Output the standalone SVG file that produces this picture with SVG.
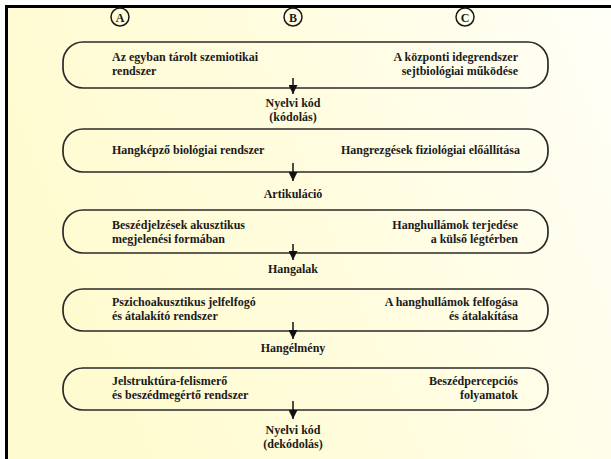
<svg xmlns="http://www.w3.org/2000/svg" width="611" height="459" viewBox="0 0 611 459">
<defs>
<linearGradient id="bg" x1="0" y1="0.3" x2="1" y2="0">
<stop offset="0" stop-color="#fffbd0"/>
<stop offset="0.6" stop-color="#fffde4"/>
<stop offset="1" stop-color="#fffff8"/>
</linearGradient>
<marker id="ah" viewBox="0 0 10 10" refX="10" refY="5" markerWidth="10" markerHeight="9" markerUnits="userSpaceOnUse" orient="auto">
<path d="M0,0 L10,5 L0,10 Z" fill="#111"/>
</marker>
<style>
.pill{fill:none;stroke:#2a2a2a;stroke-width:1.7}
.t{font-family:"Liberation Serif","DejaVu Serif","Times New Roman",serif;font-weight:bold;font-size:12px;fill:#1a1a1a}
.m{text-anchor:middle}
.r{text-anchor:end}
.circ{fill:none;stroke:#1a1a1a;stroke-width:1.5}
.cl{font-family:"Liberation Serif","DejaVu Serif","Times New Roman",serif;font-weight:bold;font-size:12px;fill:#1a1a1a;text-anchor:middle}
.arr{stroke:#111;stroke-width:1.5;marker-end:url(#ah)}
</style>
</defs>
<rect x="0" y="0" width="611" height="459" fill="url(#bg)"/>
<rect x="0" y="0" width="611" height="5" fill="#ffffff"/>
<rect x="0" y="0" width="5" height="459" fill="#ffffff"/>
<path d="M6.5,459 V6.5 H611" fill="none" stroke="#000" stroke-width="3"/>

<g id="labelA"><circle class="circ" cx="120" cy="17" r="9"/><text class="cl" x="120" y="21.5">A</text></g>
<g id="labelB"><circle class="circ" cx="293" cy="17" r="9"/><text class="cl" x="293" y="21.5">B</text></g>
<g id="labelC"><circle class="circ" cx="465" cy="17" r="9"/><text class="cl" x="465" y="21.5">C</text></g>

<g id="node1">
<rect class="pill" x="63" y="42" width="485" height="46" rx="20" ry="20"/>
<text class="t" x="112" y="61">Az egyban tárolt szemiotikai</text>
<text class="t" x="112" y="75">rendszer</text>
<text class="t r" x="518" y="61">A központi idegrendszer</text>
<text class="t r" x="518" y="75">sejtbiológiai működése</text>
</g>
<g id="code1">
<text class="t m" x="293" y="107">Nyelvi kód</text>
<text class="t m" x="293" y="121">(kódolás)</text>
</g>

<g id="node2">
<rect class="pill" x="63" y="129" width="485" height="43" rx="20" ry="20"/>
<text class="t" x="112" y="154">Hangképző biológiai rendszer</text>
<text class="t r" x="520" y="154">Hangrezgések fiziológiai előállítása</text>
</g>
<g id="artic"><text class="t m" x="293" y="198">Artikuláció</text></g>

<g id="node3">
<rect class="pill" x="63" y="210" width="485" height="43" rx="20" ry="20"/>
<text class="t" x="112" y="229">Beszédjelzések akusztikus</text>
<text class="t" x="112" y="243">megjelenési formában</text>
<text class="t r" x="518" y="229">Hanghullámok terjedése</text>
<text class="t r" x="518" y="243">a külső légtérben</text>
</g>
<g id="hangalak"><text class="t m" x="293" y="273">Hangalak</text></g>

<g id="node4">
<rect class="pill" x="63" y="289" width="485" height="42" rx="20" ry="20"/>
<text class="t" x="112" y="306">Pszichoakusztikus jelfelfogó</text>
<text class="t" x="112" y="320">és átalakító rendszer</text>
<text class="t r" x="518" y="306">A hanghullámok felfogása</text>
<text class="t r" x="518" y="320">és átalakítása</text>
</g>
<g id="hangelmeny"><text class="t m" x="293" y="352">Hangélmény</text></g>

<g id="node5">
<rect class="pill" x="63" y="368" width="485" height="42" rx="20" ry="20"/>
<text class="t" x="112" y="385">Jelstruktúra-felismerő</text>
<text class="t" x="112" y="399">és beszédmegértő rendszer</text>
<text class="t r" x="518" y="385">Beszédpercepciós</text>
<text class="t r" x="518" y="399">folyamatok</text>
</g>
<g id="code2">
<text class="t m" x="293" y="434">Nyelvi kód</text>
<text class="t m" x="293" y="448">(dekódolás)</text>
</g>

<g id="connectors">
<line class="arr" x1="293" y1="78" x2="293" y2="94"/>
<line class="arr" x1="293" y1="163" x2="293" y2="181"/>
<line class="arr" x1="293" y1="244" x2="293" y2="260"/>
<line class="arr" x1="293" y1="322" x2="293" y2="339"/>
<line class="arr" x1="293" y1="401" x2="293" y2="419"/>
</g>
</svg>
